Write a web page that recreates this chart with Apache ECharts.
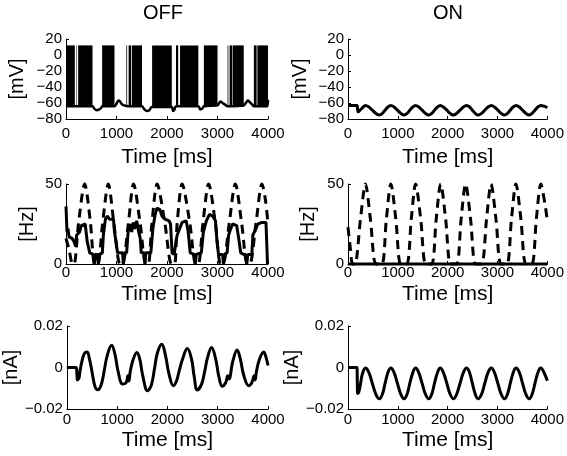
<!DOCTYPE html>
<html><head><meta charset="utf-8">
<script src="https://cdn.jsdelivr.net/npm/echarts@6/dist/echarts.min.js"></script>
<style>html,body{margin:0;padding:0;background:#fff}#c{width:567px;height:456px}</style>
</head><body><div id="c"></div>
<script>
// ---------- DATA ----------
const titles = ['OFF', 'ON'];
// OFF, membrane voltage: sub-threshold trace (ms, mV)
const offVolt = [[0,-64],[525,-64],[560,-67],[610,-69],[660,-68],[700,-66],[715,-64],[960,-64],[990,-62],[1040,-57],[1070,-58],[1100,-61],[1150,-63],[1240,-64],[1505,-64],[1540,-67],[1600,-70],[1650,-69],[1700,-65],[2095,-65],[2120,-70],[2150,-68],[2178,-64],[2620,-64],[2660,-68],[2700,-67],[2730,-64],[3000,-63],[3030,-60],[3060,-58],[3100,-60],[3150,-62],[3200,-64],[3520,-63],[3560,-60],[3600,-57],[3640,-59],[3690,-62],[3720,-64],[3985,-64],[4000,-56]];
// OFF, dense spike bursts (ms) spanning spike trough..peak (mV)
const offBurstStart = [0, 200, 240, 715, 1195, 1240, 1305, 1705, 2178, 2258, 2730, 3200, 3240, 3300, 3720, 3790];
const offBurstEnd   = [175, 210, 525, 960, 1210, 1290, 1505, 2095, 2222, 2620, 3000, 3215, 3290, 3520, 3775, 4000];
const spikePeak = 12, spikeTrough = -64;
// ON, membrane voltage (ms, mV)
const onVolt = [[0,-63],[180,-63],[192,-68],[205,-71],[240,-69],[290,-66],[350,-63],[420,-65],[489,-69],[560,-73],[628,-75],[690,-73],[744,-69],[800,-65],[860,-63],[925,-65],[992,-69],[1060,-73],[1124,-75],[1185,-73],[1240,-69],[1300,-65],[1355,-63],[1420,-65],[1488,-69],[1555,-73],[1620,-75],[1680,-73],[1735,-69],[1795,-65],[1851,-63],[1915,-65],[1984,-69],[2050,-73],[2116,-75],[2180,-73],[2248,-69],[2315,-65],[2380,-63],[2440,-65],[2496,-69],[2555,-73],[2612,-75],[2680,-73],[2744,-69],[2810,-65],[2876,-63],[2940,-65],[3008,-69],[3075,-73],[3140,-75],[3200,-73],[3256,-69],[3315,-65],[3372,-63],[3440,-65],[3504,-69],[3570,-73],[3636,-75],[3695,-73],[3752,-69],[3810,-65],[3868,-63],[3935,-64],[4000,-66]];
// OFF, rates (ms, Hz): solid and dashed
const offRateSolid = [[0,36],[15,36],[20,20],[40,22],[60,17],[120,16],[160,14],[190,11],[210,18],[270,20],[300,24],[380,25],[400,24],[420,14],[470,7],[540,6],[560,0],[580,6],[620,6],[640,0],[660,6],[720,7],[740,18],[780,28],[820,30],[860,28],[940,28],[960,20],[990,14],[1020,7],[1120,7],[1135,0],[1150,7],[1200,7],[1230,20],[1270,25],[1300,20],[1330,26],[1360,22],[1400,27],[1440,20],[1470,16],[1490,7],[1550,7],[1565,0],[1580,7],[1680,7],[1720,22],[1760,30],[1800,35],[1860,34],[1900,30],[1960,28],[2040,27],[2070,25],[2100,7],[2140,6],[2170,5],[2200,18],[2250,22],[2300,26],[2380,27],[2420,20],[2460,7],[2540,6],[2560,0],[2580,6],[2680,7],[2720,20],[2780,27],[2840,31],[2900,30],[2960,27],[2990,14],[3020,6],[3100,6],[3120,0],[3140,6],[3190,7],[3220,18],[3260,22],[3300,25],[3380,24],[3420,16],[3460,7],[3520,6],[3560,6],[3580,0],[3600,6],[3680,6],[3700,18],[3760,22],[3800,25],[3880,26],[3960,26],[3980,25],[3990,0],[4000,0]];
const offRateDashed = [[0,16],[60,9],[130,0],[160,0],[250,26],[370,50],[480,27],[570,0],[630,0],[720,24],[838,50],[950,25],[1070,0],[1120,0],[1230,24],[1338,50],[1470,25],[1580,0],[1630,0],[1700,25],[1805,50],[1960,25],[2090,0],[2150,0],[2200,25],[2300,50],[2450,26],[2570,0],[2620,0],[2710,25],[2825,50],[2960,25],[3060,0],[3110,0],[3230,25],[3353,50],[3480,25],[3590,0],[3640,0],[3760,25],[3881,50],[3950,40],[4000,25]];
// ON, rates (ms, Hz)
const onRateSolid = [[0,0],[4000,0]];
const onRateDashed = [[0,23],[50,9],[90,0],[140,0],[250,28],[350,50],[450,28],[560,0],[680,0],[770,28],[860,50],[960,28],[1060,0],[1180,0],[1270,28],[1356,50],[1460,28],[1560,0],[1680,0],[1770,28],[1860,50],[1960,28],[2060,0],[2180,0],[2270,28],[2360,50],[2460,28],[2560,0],[2680,0],[2780,28],[2870,50],[2970,28],[3070,0],[3190,0],[3280,28],[3370,50],[3470,28],[3570,0],[3690,0],[3780,28],[3870,50],[3950,38],[4000,27]];
// OFF current (ms, nA)
const offCur = [[0,0],[180,0],[195,-0.001],[208,-0.006],[222,-0.004],[238,-0.0055],[260,-0.002],[300,0.003],[350,0.0068],[403,0.0075],[450,0.004],[500,-0.002],[560,-0.0092],[614,-0.0107],[680,-0.0085],[740,-0.002],[800,0.0055],[891,0.0107],[960,0.006],[1020,-0.002],[1109,-0.008],[1180,-0.0072],[1215,-0.004],[1235,-0.0065],[1260,-0.002],[1320,0.004],[1393,0.0072],[1450,0.004],[1510,-0.004],[1604,-0.0112],[1680,-0.0085],[1740,-0.001],[1800,0.007],[1888,0.0112],[1960,0.006],[2030,-0.003],[2119,-0.0088],[2180,-0.0065],[2230,-0.002],[2300,0.004],[2396,0.0091],[2480,0.004],[2530,-0.004],[2594,-0.0108],[2680,-0.008],[2740,-0.002],[2800,0.005],[2878,0.0096],[2960,0.004],[3020,-0.004],[3089,-0.009],[3160,-0.0072],[3200,-0.004],[3225,-0.0055],[3300,0.003],[3386,0.0084],[3450,0.004],[3520,-0.004],[3617,-0.0088],[3680,-0.0072],[3725,-0.004],[3745,-0.006],[3770,-0.002],[3830,0.004],[3914,0.0075],[3960,0.005],[4000,0.001]];
// ON current (ms, nA)
const onCur = [[0,0],[180,0],[186,-0.006],[195,-0.0125],[215,-0.012],[250,-0.008],[290,-0.003],[350,-0.0003],[420,-0.0025],[489,-0.0077],[560,-0.0129],[628,-0.0151],[690,-0.0129],[744,-0.0077],[800,-0.0025],[860,-0.0003],[925,-0.0025],[992,-0.0077],[1060,-0.0129],[1124,-0.0151],[1185,-0.0129],[1240,-0.0077],[1300,-0.0025],[1355,-0.0003],[1420,-0.0025],[1488,-0.0077],[1555,-0.0129],[1620,-0.0151],[1680,-0.0129],[1735,-0.0077],[1795,-0.0025],[1851,-0.0003],[1915,-0.0025],[1984,-0.0077],[2050,-0.0129],[2116,-0.0151],[2180,-0.0129],[2248,-0.0077],[2315,-0.0025],[2380,-0.0003],[2440,-0.0025],[2496,-0.0077],[2555,-0.0129],[2612,-0.0151],[2680,-0.0129],[2744,-0.0077],[2810,-0.0025],[2876,-0.0003],[2940,-0.0025],[3008,-0.0077],[3075,-0.0129],[3140,-0.0151],[3200,-0.0129],[3256,-0.0077],[3315,-0.0025],[3372,-0.0003],[3440,-0.0025],[3504,-0.0077],[3570,-0.0129],[3636,-0.0151],[3695,-0.0129],[3752,-0.0077],[3810,-0.0025],[3868,-0.0003],[3935,-0.0025],[4000,-0.0064]];
// axis ranges
const timeRange = [0, 4000, 1000];
const voltRange = [-80, 20, 20];
const rateRange = [0, 50, 50];
const curRange = [-0.02, 0.02, 0.02];

// ---------- CHART ----------
const F = 'Liberation Sans, Arial, Helvetica, sans-serif';
const K = '#000';
const grids = [
  {left:66, top:39, width:202, height:80},
  {left:348, top:39, width:202, height:80},
  {left:66, top:184, width:202, height:80},
  {left:348, top:184, width:202, height:80},
  {left:66, top:326, width:202, height:83},
  {left:348, top:326, width:202, height:83}
];
const xLabelMargin = [7, 7, 1, 1, 3, 3];
const xNameGap = [28, 28, 20, 20, 21, 21];
const minus = s => s.replace('-', '\u2212');
const intFmt = v => minus(String(Math.round(v)));
const curFmt = v => Math.abs(v) < 1e-9 ? '0' : minus(v.toFixed(2));
function xAx(i){
  return {type:'value', gridIndex:i, min:timeRange[0], max:timeRange[1], interval:timeRange[2],
    name:'Time [ms]', nameLocation:'middle', nameGap:xNameGap[i],
    nameTextStyle:{fontSize:21, color:K, fontFamily:F},
    axisLine:{show:true, onZero:false, lineStyle:{color:K, width:1}},
    axisTick:{show:true, inside:true, length:3, lineStyle:{color:K, width:1}},
    axisLabel:{margin:xLabelMargin[i], fontSize:15, color:K, fontFamily:F, formatter:intFmt},
    splitLine:{show:false}};
}
function yAx(i, r, name, gap, fmt){
  return {type:'value', gridIndex:i, min:r[0], max:r[1], interval:r[2],
    name:name, nameLocation:'middle', nameGap:gap, nameRotate:90,
    nameTextStyle:{fontSize:20, color:K, fontFamily:F},
    axisLine:{show:true, onZero:false, lineStyle:{color:K, width:1}},
    axisTick:{show:true, inside:true, length:3, lineStyle:{color:K, width:1}},
    axisLabel:{margin:4, fontSize:15, color:K, fontFamily:F, formatter:fmt},
    splitLine:{show:false}};
}
function line(i, data, w, opts){
  return Object.assign({type:'line', xAxisIndex:i, yAxisIndex:i, data:data, showSymbol:false,
    symbol:'none', clip:false, animation:false,
    lineStyle:{color:K, width:w}}, opts || {});
}
const burstAreas = offBurstStart.map((s, k) => [
  {xAxis:s, yAxis:spikeTrough}, {xAxis:offBurstEnd[k], yAxis:spikePeak}
]);
const option = {
  animation:false,
  backgroundColor:'#fff',
  title:[
    {text:titles[0], left:163, top:3, padding:0, textAlign:'center', textStyle:{fontSize:20, fontWeight:'normal', color:K, fontFamily:F}},
    {text:titles[1], left:448, top:3, padding:0, textAlign:'center', textStyle:{fontSize:20, fontWeight:'normal', color:K, fontFamily:F}}
  ],
  grid:grids,
  xAxis:[0,1,2,3,4,5].map(xAx),
  yAxis:[
    yAx(0, voltRange, '[mV]', 39, intFmt),
    yAx(1, voltRange, '[mV]', 38, intFmt),
    yAx(2, rateRange, '[Hz]', 29, intFmt),
    yAx(3, rateRange, '[Hz]', 30, intFmt),
    yAx(4, curRange, '[nA]', 28, curFmt),
    yAx(5, curRange, '[nA]', 28, curFmt)
  ],
  series:[
    line(0, offVolt, 2.5, {smooth:0.3, markArea:{silent:true, itemStyle:{color:K, opacity:1, borderWidth:0}, data:burstAreas}}),
    line(1, onVolt, 3, {smooth:0.4}),
    line(2, offRateDashed, 3, {smooth:0.3, lineStyle:{color:K, width:3, type:[9,6]}}),
    line(2, offRateSolid, 3),
    line(3, onRateDashed, 3, {smooth:0.3, lineStyle:{color:K, width:3, type:[9,6]}}),
    line(3, onRateSolid, 3),
    line(4, offCur, 3, {smooth:0.4}),
    line(5, onCur, 3, {smooth:0.4})
  ]
};
const chart = echarts.init(document.getElementById('c'), null, {renderer:'canvas'});
chart.setOption(option);
</script></body></html>
